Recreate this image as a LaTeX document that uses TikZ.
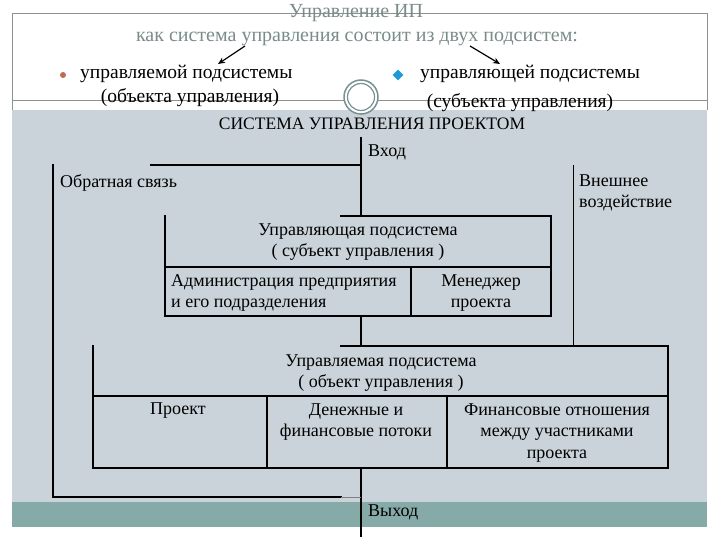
\documentclass[tikz,border=0pt]{standalone}
\usepackage{fontspec}
\setmainfont{Liberation Serif}
\newfontfamily\cyrserif{Liberation Serif}
\usetikzlibrary{arrows.meta,shapes.geometric}
\definecolor{bggray}{RGB}{201,211,217}
\definecolor{bandteal}{RGB}{134,170,168}
\definecolor{titlegray}{RGB}{122,140,138}
\definecolor{framegray}{RGB}{140,145,145}
\definecolor{bulletbrown}{RGB}{190,110,80}
\definecolor{bulletcyan}{RGB}{30,155,215}
\definecolor{ringgray}{RGB}{120,145,145}
\tikzset{
  title/.style={font=\cyrserif\fontsize{20}{22}\selectfont, text=titlegray, inner sep=0pt},
  bigtxt/.style={font=\cyrserif\fontsize{19.5}{22}\selectfont, inner sep=0pt},
  txt/.style={font=\cyrserif\fontsize{18}{21.5}\selectfont, inner sep=0pt},
  thickln/.style={line width=2.2pt, line cap=rect},
  thinln/.style={line width=1.3pt},
  arr/.style={line width=1.2pt, -{Stealth[length=7pt,width=6pt]}}
}
\begin{document}
\begin{tikzpicture}[x=1pt,y=-1pt]
\useasboundingbox (0,0) rectangle (720,540);
% backgrounds
\fill[white] (0,0) rectangle (720,540);
\fill[bggray] (12,110) rectangle (707,502);
\fill[bandteal] (12,502) rectangle (707,527);
\draw[framegray, line width=0.8pt] (12,110) -- (12,13) -- (707,13) -- (707,110);
\draw[framegray, line width=0.8pt] (12,100) -- (707,100);
% ring
\node[circle, minimum size=34pt, fill=white, draw=ringgray, line width=1.5pt, inner sep=0pt] (ring) at (361,97) {};
\draw[ringgray, line width=1.2pt] (ring.center) circle (13.5);
% titles
\node[title] (t1) at (356,13) {Управление ИП};
\node[title] (t2) at (357,39) {как система управления состоит из двух подсистем:};
\coordinate (a1s) at (245,46);
\coordinate (a1e) at (218,64);
\coordinate (a2s) at (470,46);
\coordinate (a2e) at (500,64);
\draw[arr] (a1s) -- (a1e);
\draw[arr] (a2s) -- (a2e);
% bullets
\node[circle, fill=bulletbrown, minimum size=6pt, inner sep=0pt] (b1) at (63,75) {};
\node[bigtxt, anchor=west] (l1) at (80,74) {управляемой подсистемы};
\node[bigtxt] (l2) at (190,98) {(объекта управления)};
\node[diamond, fill=bulletcyan, minimum size=11pt, inner sep=0pt, aspect=1] (b2) at (398,75) {};
\node[bigtxt, anchor=west] (r1) at (420,74) {управляющей подсистемы};
\node[bigtxt] (r2) at (520,103) {(субъекта управления)};
\node[txt, font=\cyrserif\fontsize{17.5}{20}\selectfont] (sys) at (372,124) {СИСТЕМА УПРАВЛЕНИЯ ПРОЕКТОМ};
% labels
\node[txt, anchor=west] (in) at (368,152) {Вход};
\node[txt, anchor=west] (fb) at (60,183) {Обратная связь};
\node[txt, anchor=west, align=left] (ext) at (579,193) {Внешнее\\воздействие};
\node[txt, anchor=west] (out) at (368,512) {Выход};
% box 1
\node[txt, align=center] (c1) at (358,242) {Управляющая подсистема\\( субъект управления )};
\node[txt, anchor=west, align=left] (adm) at (171,293) {Администрация предприятия\\и его подразделения};
\node[txt, align=center] (mgr) at (481,293) {Менеджер\\проекта};
% box 2
\node[txt, align=center] (c2) at (381,373) {Управляемая подсистема\\( объект управления )};
\node[txt] (prj) at (178,411) {Проект};
\node[txt, align=center] (money) at (356,422) {Денежные и\\финансовые потоки};
\node[txt, align=center] (fin) at (557,433) {Финансовые отношения\\между участниками\\проекта};
% line points
\coordinate (inTop) at (361,137);
\coordinate (fbStart) at (150,165);
\coordinate (fbJoin) at (361,165);
\coordinate (b1TL) at (165,216);
\coordinate (b1TM) at (341,216);
\coordinate (b1TN) at (361,216);
\coordinate (b1TR) at (551,216);
\coordinate (b1ML) at (165,267);
\coordinate (b1MR) at (551,267);
\coordinate (b1BL) at (165,316);
\coordinate (b1BN) at (361,316);
\coordinate (b1BR) at (551,316);
\coordinate (b1DT) at (411,267);
\coordinate (b1DB) at (411,316);
\coordinate (b2TL) at (93,346);
\coordinate (b2TM) at (341,346);
\coordinate (b2TN) at (361,346);
\coordinate (b2TR) at (668,346);
\coordinate (b2ML) at (93,396);
\coordinate (b2MR) at (668,396);
\coordinate (b2BL) at (93,468);
\coordinate (b2BN) at (361,468);
\coordinate (b2BR) at (668,468);
\coordinate (b2D1T) at (267,396);
\coordinate (b2D1B) at (267,468);
\coordinate (b2D2T) at (447,396);
\coordinate (b2D2B) at (447,468);
\coordinate (extTop) at (573,165);
\coordinate (extBot) at (573,346);
\coordinate (lvTop) at (53,165);
\coordinate (lvBot) at (53,497);
\coordinate (botEnd) at (341,497);
\coordinate (botJoin) at (361,497);
\coordinate (outEnd) at (361,537);
% connectors
\draw[thinln] (inTop) -- (b1TN);
\draw[thinln] (fbStart) -- (fbJoin);
\draw[thinln] (b1BN) -- (b2TN);
\draw[thinln] (b2BN) -- (outEnd);
\draw[line width=0.8pt] (extTop) -- (extBot);
\draw[thickln] (lvTop) -- (lvBot) -- (botEnd);
\draw[line width=0.6pt, gray] (botEnd) -- (botJoin);
% box 1
\draw[thickln] (b1TM) -- (b1TR) -- (b1BR) -- (b1BL) -- (b1TL);
\draw[thickln] (b1ML) -- (b1MR);
\draw[thinln] (b1DT) -- (b1DB);
% box 2
\draw[thickln] (b2TM) -- (b2TR) -- (b2BR) -- (b2BL) -- (b2TL);
\draw[thickln] (b2ML) -- (b2MR);
\draw[thinln] (b2D1T) -- (b2D1B);
\draw[thinln] (b2D2T) -- (b2D2B);
\end{tikzpicture}
\end{document}
